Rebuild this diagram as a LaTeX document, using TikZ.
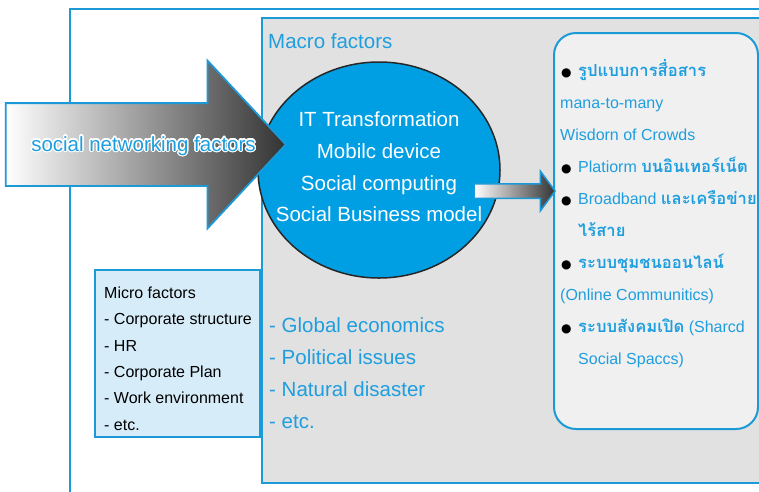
\documentclass[tikz,border=0pt]{standalone}
\usepackage{fontspec}
\usepackage{contour}
\setmainfont{Liberation Sans}
\newfontfamily\thaifont[Script=Thai]{Loma}
\newfontfamily\dotfont{DejaVu Sans}
\usetikzlibrary{shapes.geometric,shapes.arrows}
\definecolor{lineblue}{HTML}{1C9AD8}
\definecolor{textblue}{HTML}{1E9EDF}
\definecolor{discblue}{HTML}{009FE3}
\definecolor{macrogray}{HTML}{E1E1E1}
\definecolor{microfill}{HTML}{D7ECF9}
\definecolor{listfill}{HTML}{F0F0F0}
\newcommand{\thb}[1]{{\thaifont\bfseries\fontsize{16.6}{32}\selectfont #1}}
\newcommand{\blt}{\makebox[18pt][l]{\hspace{1pt}{\dotfont\fontsize{12}{12}\selectfont\color{black}●}}}
\newcommand{\ind}{\makebox[18pt]{}}
\contourlength{1.3pt}
\tikzset{
	every node/.append style={inner sep=0pt},
	frame/.style={draw=lineblue,line width=2pt},
	macrobox/.style={rectangle,draw=lineblue,line width=2pt,fill=macrogray},
	microbox/.style={rectangle,draw=lineblue,line width=2pt,fill=microfill},
	listbox/.style={rectangle,rounded corners=22pt,draw=lineblue,line width=2pt,fill=listfill},
	hub/.style={ellipse,draw=black!85,line width=1.5pt,fill=discblue},
	hubtext/.style={text=white,align=center,font=\fontsize{20.5}{31.7}\selectfont},
	bigarrow/.style={single arrow,draw=lineblue,line width=1.8pt,left color=white,right color=black!80},
	bluetext/.style={text=textblue,font=\fontsize{20.5}{32}\selectfont}
}

\begin{document}
\begin{tikzpicture}[x=1pt,y=-1pt]
	\useasboundingbox (0,0) rectangle (759,491);
	\clip (0,0) rectangle (759,491);
	% outer frame
	\coordinate (framebl) at (70,500);
	\coordinate (frametr) at (770,9);
	\draw[frame] (framebl) |- (frametr);
	% macro and micro areas
	\node[macrobox,anchor=north west,minimum width=520,minimum height=465] (macro) at (261,17) {};
	\node[microbox,anchor=north east,minimum width=165,minimum height=167] (micro) at (261,269) {};
	\node[bluetext,anchor=base west] (macrotitle) at (268,48) {Macro factors};
	\node[bluetext,anchor=north west,align=left] (macrolist) at (269,308) {\rule{0pt}{24pt}- Global economics\\- Political issues\\- Natural disaster\\- etc.};
	\node[anchor=north west,align=left,font=\fontsize{16}{26.4}\selectfont] (microlist) at (104,278) {\rule{0pt}{20pt}Micro factors\\- Corporate structure\\- HR\\- Corporate Plan\\- Work environment\\- etc.};
	% hub
	\node[hub,minimum width=242,minimum height=216] (hub) at (379,170) {};
	\node[hubtext] (hublabel) at (hub.center) {IT Transformation\\Mobilc device\\Social computing\\Social Business model\rule[-6pt]{0pt}{6pt}};
	\node[bigarrow,anchor=tip,minimum height=280,text height=40.5,text depth=40.5,single arrow head extend=42.5,single arrow tip angle=94] (push) at (287,144.5) {};
	\node[bluetext,anchor=base] (pushlabel) at (143.5,151) {\contour{white}{social networking factors}};
	% channels
	\node[listbox,anchor=north west,minimum width=204,minimum height=396] (channels) at (553,32) {};
	\node[bigarrow,line width=1.5pt,anchor=tip,minimum height=81,text height=6.5,text depth=6.5,single arrow head extend=12.5,single arrow tip angle=107] (link) at (556,191) {};
	\node[anchor=north west,align=left,text=textblue,font=\fontsize{16}{32}\selectfont] (channellist) at (560,56) {\rule{0pt}{20pt}\blt\thb{รูปแบบการสื่อสาร}\\mana-to-many\\Wisdorn of Crowds\\\blt Platiorm \thb{บนอินเทอร์เน็ต}\\\blt Broadband \thb{และเครือข่าย}\\\ind\thb{ไร้สาย}\\\blt\thb{ระบบชุมชนออนไลน์}\\(Online Communitics)\\\blt\thb{ระบบสังคมเปิด} (Sharcd\\\ind Social Spaccs)};
\end{tikzpicture}
\end{document}
